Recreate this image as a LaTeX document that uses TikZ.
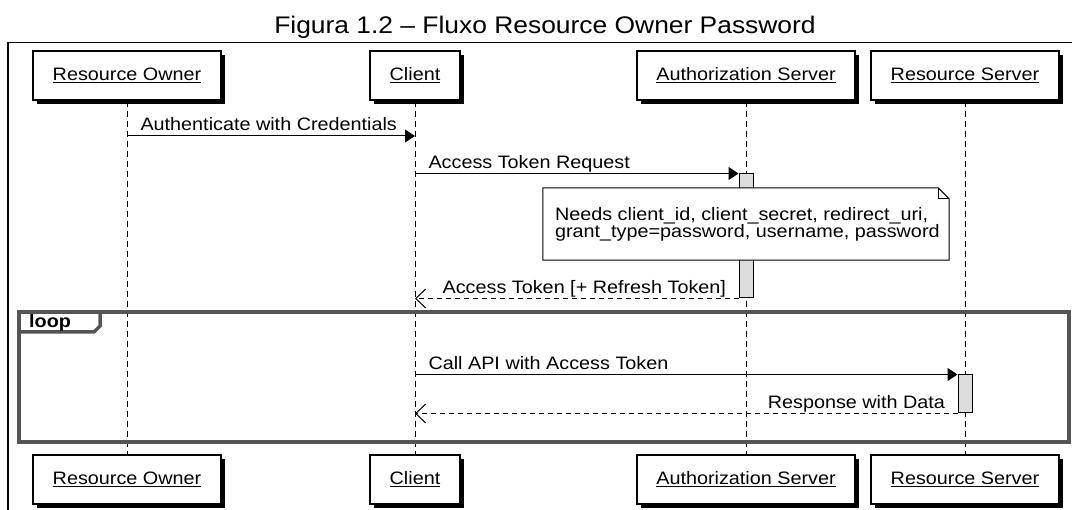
\documentclass[tikz,border=0pt]{standalone}
\usepackage{fontspec}
\setmainfont{Liberation Sans}[FakeStretch=1.1]
\usepackage{tikz}
\usetikzlibrary{arrows.meta, positioning, calc, shadows}
\definecolor{actgray}{HTML}{DDDDDD}
\definecolor{loopgray}{HTML}{555555}

\begin{document}
\begin{tikzpicture}[x=1pt, y=-1pt,
  lbl/.style={font=\fontsize{18}{17}\selectfont, inner sep=0pt},
  actor/.style={draw, fill=white, line width=1.2pt, minimum height=49pt, inner sep=0pt,
    font=\fontsize{18}{17}\selectfont,
    drop shadow={shadow xshift=4pt, shadow yshift=-4pt, fill=black, opacity=1}},
  lifeline/.style={line width=1pt, dash pattern=on 6pt off 4pt},
  act/.style={draw, fill=actgray, line width=1pt, minimum width=14pt, inner sep=0pt},
  call/.style={line width=1pt, -{Triangle[length=10pt, width=13pt]}},
  reply/.style={line width=1pt, dash pattern=on 5pt off 4pt, -{Straight Barb[length=10pt, width=19pt]}},
  callLabel/.style={lbl, anchor=base west, xshift=13pt, yshift=5pt},
  replyLabel/.style={lbl, anchor=base east, xshift=-12pt, yshift=5pt},
  loopframe/.style={draw=loopgray, line width=3.5pt}]
\clip (0,0) rectangle (1072,510);
\node[font=\fontsize{24}{28}\selectfont, anchor=base] (title) at (545,34) {Figura 1.2 – Fluxo Resource Owner Password};
\draw[line width=1.5pt] (8,42.5) rectangle (1100,540);

% participants
\node[actor, minimum width=188pt] (ownerTop) at (127,75.5) {\underline{Resource Owner}};
\node[actor, minimum width=90pt] (clientTop) at (415,75.5) {\underline{Client}};
\node[actor, minimum width=218pt] (authTop) at (746,75.5) {\underline{Authorization Server}};
\node[actor, minimum width=188pt] (resTop) at (965,75.5) {\underline{Resource Server}};
\node[actor, minimum width=188pt] (ownerBot) at (127,479.5) {\underline{Resource Owner}};
\node[actor, minimum width=90pt] (clientBot) at (415,479.5) {\underline{Client}};
\node[actor, minimum width=218pt] (authBot) at (746,479.5) {\underline{Authorization Server}};
\node[actor, minimum width=188pt] (resBot) at (965,479.5) {\underline{Resource Server}};

\draw[lifeline] (ownerTop.south) -- (ownerBot.north);
\draw[lifeline] (clientTop.south) -- (clientBot.north);
\draw[lifeline] (authTop.south) -- (authBot.north);
\draw[lifeline] (resTop.south) -- (resBot.north);

\node[act, minimum height=124pt] (authAct) at (746,236) {};
\node[act, minimum height=38pt] (resAct) at (965,394) {};

% note
\node[fill=white, minimum width=406pt, minimum height=72pt, inner sep=0pt] (needs) at (746,224) {};
\draw[line width=1pt] (needs.north west) -- ($(needs.north east)+(-11,0)$)
  -- ($(needs.north east)+(0,11)$) -- (needs.south east) -- (needs.south west) -- cycle;
\draw[line width=1pt] ($(needs.north east)+(-11,0)$) -- ($(needs.north east)+(-11,11)$)
  -- ($(needs.north east)+(0,11)$);
\node[lbl, align=left, anchor=west, xshift=12pt] (needsText) at (needs.west)
  {Needs client\_id, client\_secret, redirect\_uri,\\grant\_type=password, username, password};

% messages
\coordinate (m1a) at (ownerTop.south |- 0,136);
\coordinate (m1b) at (clientTop.south |- 0,136);
\draw[call] (m1a) -- (m1b) node[pos=0, callLabel] {Authenticate with Credentials};
\coordinate (m2a) at (clientTop.south |- authAct.north);
\draw[call] (m2a) -- (authAct.north west) node[pos=0, callLabel] {Access Token Request};
\coordinate (m3b) at (clientTop.south |- authAct.south);
\draw[reply] (authAct.south west) -- (m3b) node[pos=0, replyLabel] {Access Token [+ Refresh Token]};

% loop
\draw[loopframe] (19,312) rectangle (1069,442);
\draw[loopframe] (19,332) -- (94,332) -- (100,326) -- (100,312);
\node[lbl, font=\bfseries\fontsize{18}{17}\selectfont, anchor=base west] (loopTag) at (29,328) {loop};
\coordinate (m4a) at (clientTop.south |- resAct.north);
\draw[call] (m4a) -- (resAct.north west) node[pos=0, callLabel] {Call API with Access Token};
\coordinate (m5b) at (clientTop.south |- resAct.south);
\draw[reply] (resAct.south west) -- (m5b) node[pos=0, replyLabel] {Response with Data};
\end{tikzpicture}
\end{document}
